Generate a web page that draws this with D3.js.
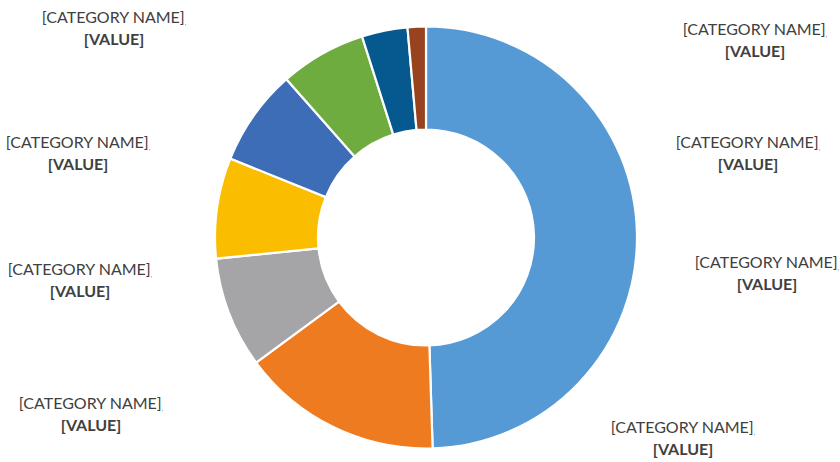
<!DOCTYPE html>
<html>
<head>
<meta charset="utf-8">
<script src="https://cdn.jsdelivr.net/npm/d3@7"></script>
<style>
  html, body { margin: 0; padding: 0; background: #fff; }
  svg { display: block; }
</style>
</head>
<body>
<div id="chart"></div>
<script>
// Slice data, clockwise from 12 o'clock
const categories = ['A', 'B', 'C', 'D', 'E', 'F', 'G', 'H'];
const values = [49.5, 15.4, 8.5, 7.7, 7.4, 6.6, 3.5, 1.4];
const colors = ['#5599d5', '#ef7b20', '#a5a5a7', '#fbbd00', '#3d6db6', '#6fac3f', '#06598f', '#974320'];
const labelText = '[CATEGORY NAME]';
const valueText = '[VALUE]';

// Label placement (centre of the two-line label), one per slice
const labelPos = [
  [767, 264], [683, 429], [91, 405], [80, 271],
  [78, 144], [114, 19], [755, 31], [748, 144]
];

const width = 840;
const height = 462;
const cx = 426, cy = 237.5;
const outerR = 211;
const innerR = 108;

const svg = d3.select('#chart')
  .append('svg')
  .attr('width', width)
  .attr('height', height);

const pie = d3.pie().sort(null).value(d => d);
const arc = d3.arc().innerRadius(innerR).outerRadius(outerR);

const g = svg.append('g').attr('transform', `translate(${cx},${cy})`);

g.selectAll('path')
  .data(pie(values))
  .join('path')
  .attr('d', arc)
  .attr('fill', (d, i) => colors[i])
  .attr('stroke', '#fff')
  .attr('stroke-width', 2.2)
  .attr('stroke-linejoin', 'miter');

// Data labels
const labels = svg.append('g')
  .attr('font-family', 'Lato, "Open Sans", sans-serif')
  .attr('font-size', 16)
  .attr('fill', '#404040')
  .attr('text-anchor', 'middle');

categories.forEach((c, i) => {
  const [x, y] = labelPos[i];
  const t = labels.append('text')
    .attr('x', x)
    .attr('y', y)
    .attr('dominant-baseline', 'middle');
  t.append('tspan').text(labelText);
  t.append('tspan').attr('font-size', 6).attr('dy', 4).text(',');
  labels.append('text')
    .attr('x', x)
    .attr('y', y + 22)
    .attr('dominant-baseline', 'middle')
    .attr('font-weight', 'bold')
    .text(valueText);
});
</script>
</body>
</html>
